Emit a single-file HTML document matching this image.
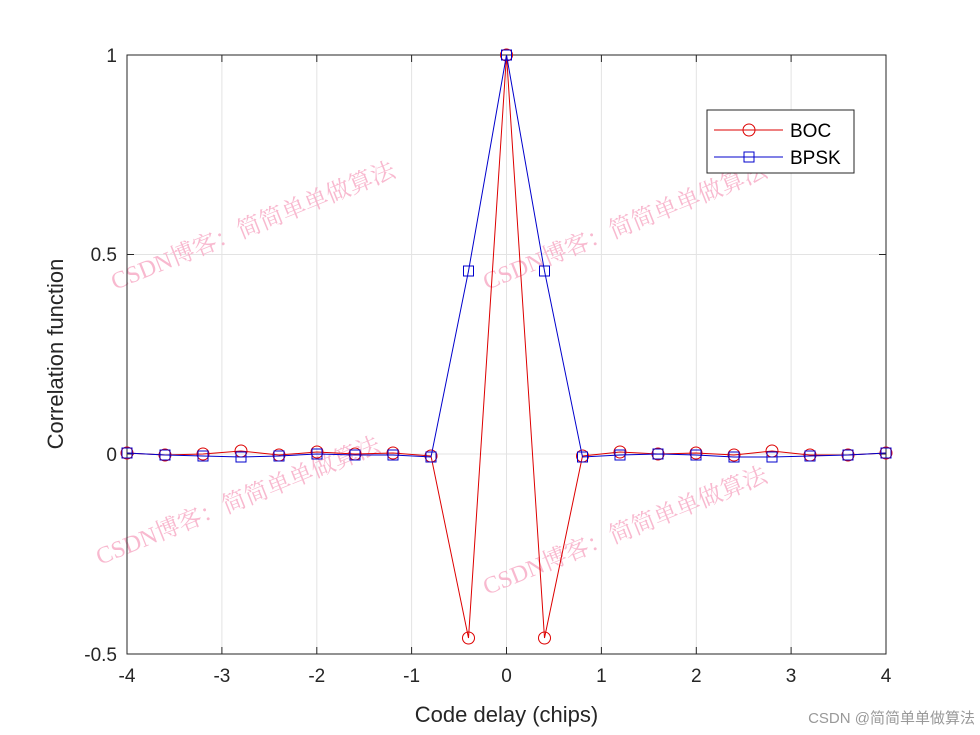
<!DOCTYPE html>
<html><head><meta charset="utf-8"><style>body{margin:0;background:#fff}svg{display:block}</style></head><body>
<svg width="980" height="735" xmlns="http://www.w3.org/2000/svg" font-family="Liberation Sans, Arial, sans-serif">
<rect width="980" height="735" fill="#fff"/>
<g stroke="#e3e3e3" stroke-width="1">
<line x1="221.9" y1="55" x2="221.9" y2="654"/><line x1="316.8" y1="55" x2="316.8" y2="654"/><line x1="411.6" y1="55" x2="411.6" y2="654"/><line x1="506.5" y1="55" x2="506.5" y2="654"/><line x1="601.4" y1="55" x2="601.4" y2="654"/><line x1="696.3" y1="55" x2="696.3" y2="654"/><line x1="791.1" y1="55" x2="791.1" y2="654"/>
<line x1="127" y1="254.5" x2="886" y2="254.5"/><line x1="127" y1="454" x2="886" y2="454"/>
</g>
<g fill="#f7a8c4" font-family="Liberation Serif, Noto Serif CJK SC, serif" font-size="24" opacity="0.8">
<text transform="translate(115,290) rotate(-22)">CSDN博客：简简单单做算法</text>
<text transform="translate(487,290) rotate(-22)">CSDN博客：简简单单做算法</text>
<text transform="translate(100,565) rotate(-22)">CSDN博客：简简单单做算法</text>
<text transform="translate(487,595) rotate(-22)">CSDN博客：简简单单做算法</text>
</g>
<rect x="127" y="55" width="759" height="599" fill="none" stroke="#262626" stroke-width="1"/>
<g stroke="#262626">
<line x1="221.9" y1="654" x2="221.9" y2="647"/><line x1="316.8" y1="654" x2="316.8" y2="647"/><line x1="411.6" y1="654" x2="411.6" y2="647"/><line x1="506.5" y1="654" x2="506.5" y2="647"/><line x1="601.4" y1="654" x2="601.4" y2="647"/><line x1="696.3" y1="654" x2="696.3" y2="647"/><line x1="791.1" y1="654" x2="791.1" y2="647"/>
<line x1="221.9" y1="55" x2="221.9" y2="62"/><line x1="316.8" y1="55" x2="316.8" y2="62"/><line x1="411.6" y1="55" x2="411.6" y2="62"/><line x1="506.5" y1="55" x2="506.5" y2="62"/><line x1="601.4" y1="55" x2="601.4" y2="62"/><line x1="696.3" y1="55" x2="696.3" y2="62"/><line x1="791.1" y1="55" x2="791.1" y2="62"/>
<line x1="127" y1="254.5" x2="134" y2="254.5"/><line x1="127" y1="454" x2="134" y2="454"/><line x1="886" y1="254.5" x2="879" y2="254.5"/><line x1="886" y1="454" x2="879" y2="454"/>
</g>
<g fill="#262626" font-size="19" text-anchor="middle">
<text x="127" y="682">-4</text><text x="221.9" y="682">-3</text><text x="316.8" y="682">-2</text><text x="411.6" y="682">-1</text><text x="506.5" y="682">0</text><text x="601.4" y="682">1</text><text x="696.3" y="682">2</text><text x="791.1" y="682">3</text><text x="886" y="682">4</text>
</g>
<g fill="#262626" font-size="19" text-anchor="end">
<text x="117" y="62">1</text><text x="117" y="261">0.5</text><text x="117" y="461">0</text><text x="117" y="661">-0.5</text>
</g>
<text x="506.5" y="722" font-size="22" text-anchor="middle" fill="#262626">Code delay (chips)</text>
<text transform="translate(63,354) rotate(-90)" font-size="22" text-anchor="middle" fill="#262626">Correlation function</text>
<polyline fill="none" stroke="#d00" stroke-width="1" points="127,453 165,455 203,454 241,451 279,455 317,452 355,454 393,453 431,456 468.5,638 506.5,55 544.5,638 582.5,456 620,452 658,454 696,453 734,455 772,451 810,455 848,455 886,453"/>
<g fill="none" stroke="#d00" stroke-width="1">
<circle cx="127" cy="453" r="6"/><circle cx="165" cy="455" r="6"/><circle cx="203" cy="454" r="6"/><circle cx="241" cy="451" r="6"/><circle cx="279" cy="455" r="6"/><circle cx="317" cy="452" r="6"/><circle cx="355" cy="454" r="6"/><circle cx="393" cy="453" r="6"/><circle cx="431" cy="456" r="6"/><circle cx="468.5" cy="638" r="6"/><circle cx="506.5" cy="55" r="6"/><circle cx="544.5" cy="638" r="6"/><circle cx="582.5" cy="456" r="6"/><circle cx="620" cy="452" r="6"/><circle cx="658" cy="454" r="6"/><circle cx="696" cy="453" r="6"/><circle cx="734" cy="455" r="6"/><circle cx="772" cy="451" r="6"/><circle cx="810" cy="455" r="6"/><circle cx="848" cy="455" r="6"/><circle cx="886" cy="453" r="6"/>
</g>
<polyline fill="none" stroke="#00c" stroke-width="1" points="127,453 165,455 203,456 241,457 279,456 317,454 355,455 393,455 431,457 468.5,271 506.5,55 544.5,271 582.5,457 620,455 658,454 696,455 734,457 772,457 810,456 848,455 886,453"/>
<g fill="none" stroke="#00c" stroke-width="1">
<rect x="122" y="448" width="10" height="10"/><rect x="160" y="450" width="10" height="10"/><rect x="198" y="451" width="10" height="10"/><rect x="236" y="452" width="10" height="10"/><rect x="274" y="451" width="10" height="10"/><rect x="312" y="449" width="10" height="10"/><rect x="350" y="450" width="10" height="10"/><rect x="388" y="450" width="10" height="10"/><rect x="426" y="452" width="10" height="10"/><rect x="463.5" y="266" width="10" height="10"/><rect x="501.5" y="50" width="10" height="10"/><rect x="539.5" y="266" width="10" height="10"/><rect x="577.5" y="452" width="10" height="10"/><rect x="615" y="450" width="10" height="10"/><rect x="653" y="449" width="10" height="10"/><rect x="691" y="450" width="10" height="10"/><rect x="729" y="452" width="10" height="10"/><rect x="767" y="452" width="10" height="10"/><rect x="805" y="451" width="10" height="10"/><rect x="843" y="450" width="10" height="10"/><rect x="881" y="448" width="10" height="10"/>
</g>
<rect x="707" y="110" width="147" height="63" fill="#fff" stroke="#262626" stroke-width="1"/>
<line x1="714" y1="130" x2="783" y2="130" stroke="#d00"/><circle cx="749" cy="130" r="6" fill="none" stroke="#d00"/>
<line x1="714" y1="157" x2="783" y2="157" stroke="#00c"/><rect x="744" y="152" width="10" height="10" fill="none" stroke="#00c"/>
<text x="790" y="137" font-size="19" fill="#000">BOC</text>
<text x="790" y="164" font-size="19" fill="#000">BPSK</text>
<text x="975" y="723" font-size="15" fill="#999" text-anchor="end" font-family="Liberation Sans, Noto Sans CJK SC, sans-serif">CSDN @简简单单做算法</text>
</svg>
</body></html>
